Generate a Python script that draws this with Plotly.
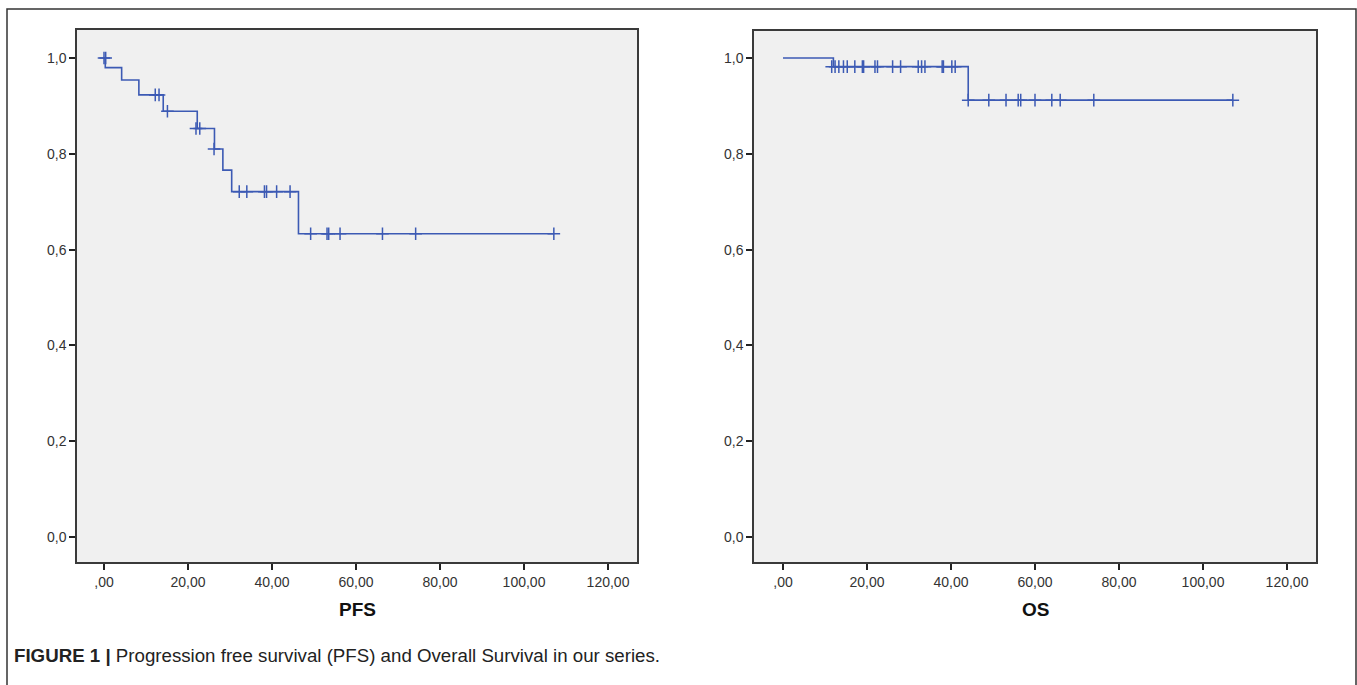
import plotly.graph_objects as go

# ---------------- data ----------------
pfs_step_times = [0, 0.3, 4.2, 8.3, 14.1, 22.2, 26.3, 28.3, 30.4, 46.3, 107.1]
pfs_step_surv = [1.0, 0.980, 0.954, 0.923, 0.889, 0.853, 0.810, 0.766, 0.721, 0.633, 0.633]
pfs_cens_times = [0, 0.4, 12.2, 13.1, 15.1, 21.9, 22.8, 26.2, 32.2, 34.0, 38.2, 38.7, 41.1, 44.3,
                  49.2, 53.1, 53.5, 56.2, 66.3, 74.2, 107.1]
pfs_cens_surv = [1.0, 1.0, 0.923, 0.923, 0.889, 0.853, 0.853, 0.810, 0.721, 0.721, 0.721, 0.721, 0.721, 0.721,
                 0.633, 0.633, 0.633, 0.633, 0.633, 0.633, 0.633]

os_step_times = [0, 12.0, 44.1, 107.1]
os_step_surv = [1.0, 0.982, 0.912, 0.912]
os_cens_times = [11.6, 12.4, 13.3, 14.4, 15.3, 17.1, 18.9, 19.2, 21.9, 22.5, 26.1, 28.0, 32.2, 33.0, 33.8,
                 37.9, 38.2, 40.2, 41.0,
                 44.1, 49.0, 53.1, 56.0, 56.6, 60.0, 64.0, 66.0, 74.0, 107.1]
os_cens_surv = [0.982] * 19 + [0.912] * 10

x_tickvals = [0, 20, 40, 60, 80, 100, 120]
x_ticktext = [",00", "20,00", "40,00", "60,00", "80,00", "100,00", "120,00"]
y_tickvals = [0.0, 0.2, 0.4, 0.6, 0.8, 1.0]
y_ticktext = ["0,0", "0,2", "0,4", "0,6", "0,8", "1,0"]

panel_titles = ["PFS", "OS"]
caption_bold = "FIGURE 1 |"
caption_text = "Progression free survival (PFS) and Overall Survival in our series."

# ---------------- layout helpers ----------------
W, H = 1357, 685
BLUE = "#3c5ab4"
FONT = "Liberation Sans, Arial, sans-serif"


def px(x):
    return x / W


def py(y):
    return 1 - y / H


fig = go.Figure()

for i, (st, ss, ct, cs) in enumerate([
    (pfs_step_times, pfs_step_surv, pfs_cens_times, pfs_cens_surv),
    (os_step_times, os_step_surv, os_cens_times, os_cens_surv),
]):
    xa = "x" if i == 0 else "x2"
    ya = "y" if i == 0 else "y2"
    fig.add_trace(go.Scatter(x=st, y=ss, mode="lines", line=dict(color=BLUE, width=1.6, shape="hv"),
                             xaxis=xa, yaxis=ya, showlegend=False, hoverinfo="skip"))
    fig.add_trace(go.Scatter(x=ct, y=cs, mode="markers",
                             marker=dict(symbol="cross-thin", size=9, line=dict(color=BLUE, width=1.5)),
                             xaxis=xa, yaxis=ya, showlegend=False, hoverinfo="skip"))

axis_common = dict(
    showgrid=False, zeroline=False, showline=True, mirror=True,
    linecolor="#3a3a3a", linewidth=1.5,
    ticks="outside", ticklen=6, tickwidth=1.5, tickcolor="#222",
    tickfont=dict(family=FONT, size=14, color="#333"),
)

fig.update_layout(
    width=W, height=H, margin=dict(l=0, r=0, t=0, b=0),
    paper_bgcolor="white", plot_bgcolor="#f0f0f0",
    xaxis=dict(domain=[px(77), px(637)], range=[-6.43, 126.9], anchor="y",
               tickvals=x_tickvals, ticktext=x_ticktext, **axis_common),
    yaxis=dict(domain=[py(562), py(30)], range=[-0.0522, 1.0585], anchor="x",
               tickvals=y_tickvals, ticktext=y_ticktext, **axis_common),
    xaxis2=dict(domain=[px(754), px(1316)], range=[-6.9, 126.9], anchor="y2",
                tickvals=x_tickvals, ticktext=x_ticktext, **axis_common),
    yaxis2=dict(domain=[py(562), py(31)], range=[-0.0522, 1.0564], anchor="x2",
                tickvals=y_tickvals, ticktext=y_ticktext, **axis_common),
)

# panel axis titles
for xc, t in zip([357, 1035], panel_titles):
    fig.add_annotation(x=px(xc), y=py(609), xref="paper", yref="paper", text="<b>%s</b>" % t,
                       showarrow=False, xanchor="center", yanchor="middle",
                       font=dict(family=FONT, size=19, color="#111"))

# caption
fig.add_annotation(x=px(12), y=py(655), xref="paper", yref="paper",
                   text="<b>%s</b> %s" % (caption_bold, caption_text),
                   showarrow=False, xanchor="left", yanchor="middle",
                   font=dict(family=FONT, size=18.7, color="#222"))

# outer frame
fig.add_shape(type="rect", xref="paper", yref="paper", x0=px(7), x1=px(1356), y0=py(720), y1=py(9),
              line=dict(color="#333", width=1.5), fillcolor="rgba(0,0,0,0)", layer="above")

fig.write_html("out.html", config={"displayModeBar": False},
               post_script="document.body.style.margin='0';document.body.style.overflow='hidden';")
